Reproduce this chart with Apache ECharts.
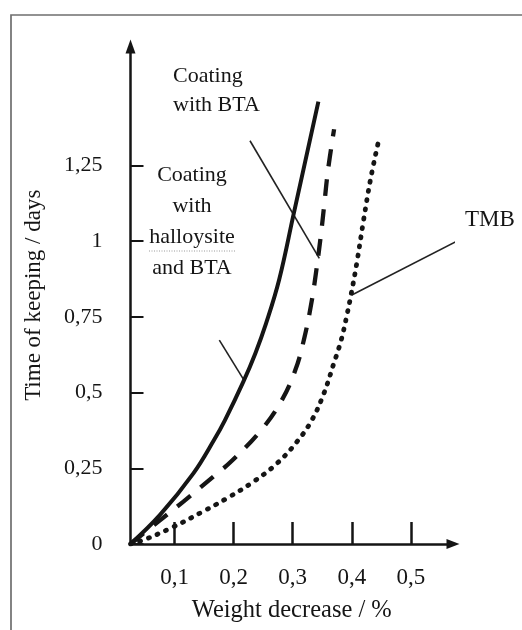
<!DOCTYPE html>
<html>
<head>
<meta charset="utf-8">
<script src="https://cdn.jsdelivr.net/npm/echarts@6/dist/echarts.min.js"></script>
<style>
html,body{margin:0;padding:0;background:#fff;}
#main{width:522px;height:630px;}
</style>
</head>
<body>
<div id="main"></div>
<script>
// ---- data ----
const xTicks = [0.1, 0.2, 0.3, 0.4, 0.5];
const yTicks = [0, 0.25, 0.5, 0.75, 1, 1.25];

const halloysiteX = [0.0255, 0.0754, 0.1319, 0.1668, 0.1854, 0.2165, 0.2367, 0.2549, 0.2769, 0.3018, 0.3434];
const halloysiteY = [0, 0.096, 0.233, 0.343, 0.409, 0.536, 0.629, 0.728, 0.871, 1.091, 1.460];

const btaX = [0.0255, 0.0726, 0.1150, 0.1692, 0.1984, 0.2467, 0.2802, 0.3044, 0.3201, 0.3324, 0.3392, 0.3473, 0.3536, 0.3597, 0.3700];
const btaY = [0, 0.074, 0.140, 0.228, 0.277, 0.376, 0.470, 0.574, 0.684, 0.805, 0.893, 1.014, 1.125, 1.234, 1.369];

const tmbX = [0.0255, 0.0472, 0.0966, 0.1480, 0.1888, 0.2338, 0.2734, 0.3074, 0.3324, 0.3527, 0.3695, 0.3820, 0.3923, 0.3991, 0.4081, 0.4199, 0.4314, 0.4450];
const tmbY = [0, 0.013, 0.055, 0.107, 0.151, 0.206, 0.266, 0.338, 0.409, 0.497, 0.596, 0.673, 0.761, 0.827, 0.924, 1.069, 1.201, 1.328];

// leader lines of the annotations (data coordinates)
const leaderBTA = [[0.2277, 1.331], [0.3450, 0.943]];
const leaderHalloysite = [[0.1758, 0.673], [0.2175, 0.541]];
const leaderTMB = [[0.4000, 0.822], [0.5785, 1.000]];

const labelBTA = 'Coating\nwith BTA';
const labelHalloysite = 'Coating\nwith\nhalloysite\nand BTA';
const labelTMB = 'TMB';
const xTitle = 'Weight decrease / %';
const yTitle = 'Time of keeping / days';

// ---- build ----
const FONT = "'Liberation Serif', 'Times New Roman', serif";
const INK = '#151515';
const zip = (xs, ys) => xs.map((x, i) => [x, ys[i]]);
const fmt = v => String(v).replace('.', ',');

const chart = echarts.init(document.getElementById('main'), null, {renderer: 'canvas'});

function leader(data) {
  return {
    type: 'line', data: data, silent: true, clip: false,
    showSymbol: false, symbol: 'none',
    lineStyle: {color: '#222', width: 1.6}, z: 3
  };
}

chart.setOption({
  backgroundColor: '#ffffff',
  animation: false,
  grid: {left: 130.5, right: 69, top: 46.5, bottom: 86},
  xAxis: {
    type: 'value', min: 0.0255, max: 0.5712,
    name: xTitle, nameLocation: 'middle', nameGap: 54,
    nameTextStyle: {fontFamily: FONT, fontSize: 24.5, color: INK},
    axisLine: {show: true, onZero: false, symbol: ['none', 'triangle'], symbolSize: [10, 13],
      lineStyle: {color: INK, width: 2.5}},
    axisTick: {show: true, inside: true, length: 22, customValues: xTicks,
      lineStyle: {color: INK, width: 2.5}},
    axisLabel: {customValues: xTicks, margin: 22, formatter: fmt,
      fontFamily: FONT, fontSize: 23, color: INK},
    splitLine: {show: false}
  },
  yAxis: {
    type: 'value', min: 0, max: 1.642,
    name: yTitle, nameLocation: 'middle', nameGap: 85,
    nameTextStyle: {fontFamily: FONT, fontSize: 23, color: INK},
    axisLine: {show: true, onZero: false, symbol: ['none', 'triangle'], symbolSize: [10, 14],
      lineStyle: {color: INK, width: 2.5}},
    axisTick: {show: true, inside: true, length: 13, customValues: yTicks,
      lineStyle: {color: INK, width: 2}},
    axisLabel: {customValues: yTicks, margin: 28, formatter: fmt,
      fontFamily: FONT, fontSize: 22, color: INK},
    splitLine: {show: false}
  },
  series: [
    {name: 'Coating with halloysite and BTA', type: 'line', data: zip(halloysiteX, halloysiteY),
      smooth: 0.4, showSymbol: false, symbol: 'none',
      lineStyle: {color: INK, width: 4}, z: 4},
    {name: 'Coating with BTA', type: 'line', data: zip(btaX, btaY),
      smooth: 0.4, showSymbol: false, symbol: 'none',
      lineStyle: {color: INK, width: 4.3, type: [17, 13]}, z: 4},
    {name: 'TMB', type: 'line', data: zip(tmbX, tmbY),
      smooth: 0.4, showSymbol: false, symbol: 'none',
      lineStyle: {color: INK, width: 4.8, type: [1, 8.4], cap: 'round'}, z: 4},
    leader(leaderBTA),
    leader(leaderHalloysite),
    leader(leaderTMB)
  ],
  graphic: [
    {type: 'polyline', silent: true, z: 10,
      shape: {points: [[11, 632], [11, 15], [524, 15]]},
      style: {stroke: '#6f6f6f', lineWidth: 1.7, fill: null}},
    {type: 'text', silent: true, z: 10,
      style: {text: labelBTA, x: 173, y: 61.5, font: '22px ' + FONT, lineHeight: 29,
        fill: INK, align: 'left', verticalAlign: 'top'}},
    {type: 'text', silent: true, z: 10,
      style: {text: labelHalloysite, x: 192, y: 159.5, font: '22px ' + FONT, lineHeight: 31,
        fill: INK, align: 'center', verticalAlign: 'top'}},
    {type: 'line', silent: true, z: 10,
      shape: {x1: 149, y1: 251, x2: 236, y2: 251},
      style: {stroke: '#9a9a9a', lineWidth: 1, lineDash: [1, 1.5]}},
    {type: 'text', silent: true, z: 10,
      style: {text: labelTMB, x: 465, y: 220, font: '23px ' + FONT,
        fill: INK, align: 'left', verticalAlign: 'middle'}}
  ]
});
</script>
</body>
</html>
